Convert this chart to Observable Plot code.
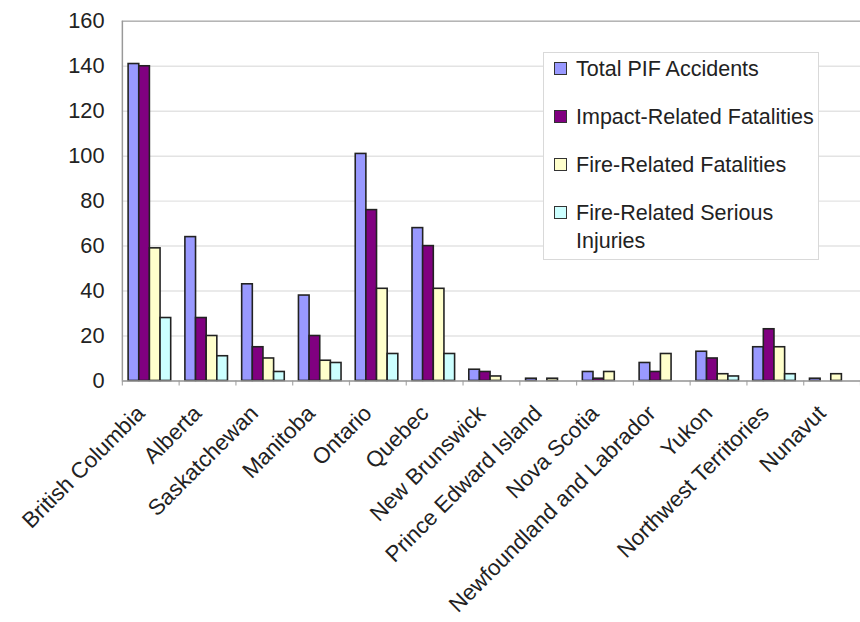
<!DOCTYPE html>
<html>
<head>
<meta charset="utf-8">
<script src="https://cdn.jsdelivr.net/npm/d3@7"></script>
<script src="https://cdn.jsdelivr.net/npm/@observablehq/plot@0.6"></script>
<style>
  html, body { margin: 0; padding: 0; background: #fff; overflow: hidden; }
  #wrap { position: relative; width: 860px; height: 622px; overflow: hidden;
          font-family: "Liberation Sans", Arial, sans-serif; color: #222; }
  #legend { position: absolute; left: 543px; top: 52px; width: 276px; height: 208px;
            box-sizing: border-box; border: 1px solid #d9d9d9; background: #fff; }
  .item { position: absolute; left: 10px; font-size: 21.5px; line-height: 28px; }
  .sw { position: absolute; left: 0; top: 7px; width: 13px; height: 13px;
        box-sizing: border-box; border: 1.5px solid #333; }
  .lab { position: absolute; left: 22px; top: 0; white-space: nowrap; }
  .lab.wrap { white-space: normal; width: 240px; }
</style>
</head>
<body>
<div id="wrap"><div id="chart"></div><div id="legend"></div></div>
<script>
// ---- data ----
const provinces = ["British Columbia", "Alberta", "Saskatchewan", "Manitoba", "Ontario", "Quebec",
  "New Brunswick", "Prince Edward Island", "Nova Scotia", "Newfoundland and Labrador",
  "Yukon", "Northwest Territories", "Nunavut"];
const series = ["Total PIF Accidents", "Impact-Related Fatalities", "Fire-Related Fatalities",
  "Fire-Related Serious Injuries"];
const totalPIF   = [141, 64, 43, 38, 101, 68, 5, 1, 4, 8, 13, 15, 1];
const impactFat  = [140, 28, 15, 20, 76, 60, 4, 0, 1, 4, 10, 23, 0];
const fireFat    = [59, 20, 10, 9, 41, 41, 2, 1, 4, 12, 3, 15, 3];
const fireInj    = [28, 11, 4, 8, 12, 12, 0, 0, 0, 0, 2, 3, 0];
const yTicks = [0, 20, 40, 60, 80, 100, 120, 140, 160];
const colors = ["#9999ff", "#800080", "#ffffcc", "#ccffff"];

const values = [totalPIF, impactFat, fireFat, fireInj];
const rows = [];
provinces.forEach((p, i) => values.forEach((vals, j) =>
  rows.push({province: p, pi: i, series: series[j], sj: j, value: vals[i]})));

// grouped layout within each province slot (in x units)
const groupStart = 0.11, barW = 0.1875;

const chart = Plot.plot({
  width: 868, height: 622,
  marginLeft: 123, marginRight: 0, marginTop: 21, marginBottom: 238,
  style: {fontFamily: "Liberation Sans, Arial, sans-serif", fontSize: "22px", color: "#222", background: "#fff"},
  x: {domain: [0, provinces.length], axis: null},
  y: {domain: [0, 160], axis: null},
  color: {domain: series, range: colors},
  marks: [
    Plot.ruleY(yTicks, {stroke: "#e3e3e3", strokeWidth: 1.5}),
    Plot.ruleY([160], {stroke: "#b5b5b5", strokeWidth: 1.5}),
    Plot.axisX({ticks: d3.range(provinces.length + 1), tickSize: 5, tickFormat: () => "", stroke: "#aaa", strokeWidth: 1.2, label: null}),
    Plot.axisY({ticks: yTicks, tickSize: 0, tickPadding: 18, fontSize: 22, tickFormat: d => String(d), label: null}),
    Plot.rectY(rows.filter(d => d.value > 0), {
      x1: d => d.pi + groupStart + d.sj * barW,
      x2: d => d.pi + groupStart + (d.sj + 1) * barW,
      y1: 0, y2: "value",
      fill: "series", stroke: "#222", strokeWidth: 1.6
    }),
    Plot.ruleY([0], {stroke: "#999", strokeWidth: 1.5}),
    Plot.ruleX([0], {y1: 0, y2: 160, stroke: "#999", strokeWidth: 1.5}),
    Plot.text(provinces, {
      x: (d, i) => i + 0.5, frameAnchor: "bottom",
      rotate: -45, textAnchor: "end", lineAnchor: "middle",
      dx: -10, dy: 29, fontSize: 22.5, fill: "#222"
    })
  ]
});
document.getElementById("chart").appendChild(chart);

// legend
const legend = document.getElementById("legend");
series.forEach((s, i) => {
  const item = document.createElement("div");
  item.className = "item";
  item.style.top = (2 + i * 48) + "px";
  const sw = document.createElement("div");
  sw.className = "sw";
  sw.style.background = colors[i];
  const lab = document.createElement("div");
  lab.className = "lab" + (i === 3 ? " wrap" : "");
  lab.textContent = s;
  item.appendChild(sw); item.appendChild(lab);
  legend.appendChild(item);
});
</script>
</body>
</html>
